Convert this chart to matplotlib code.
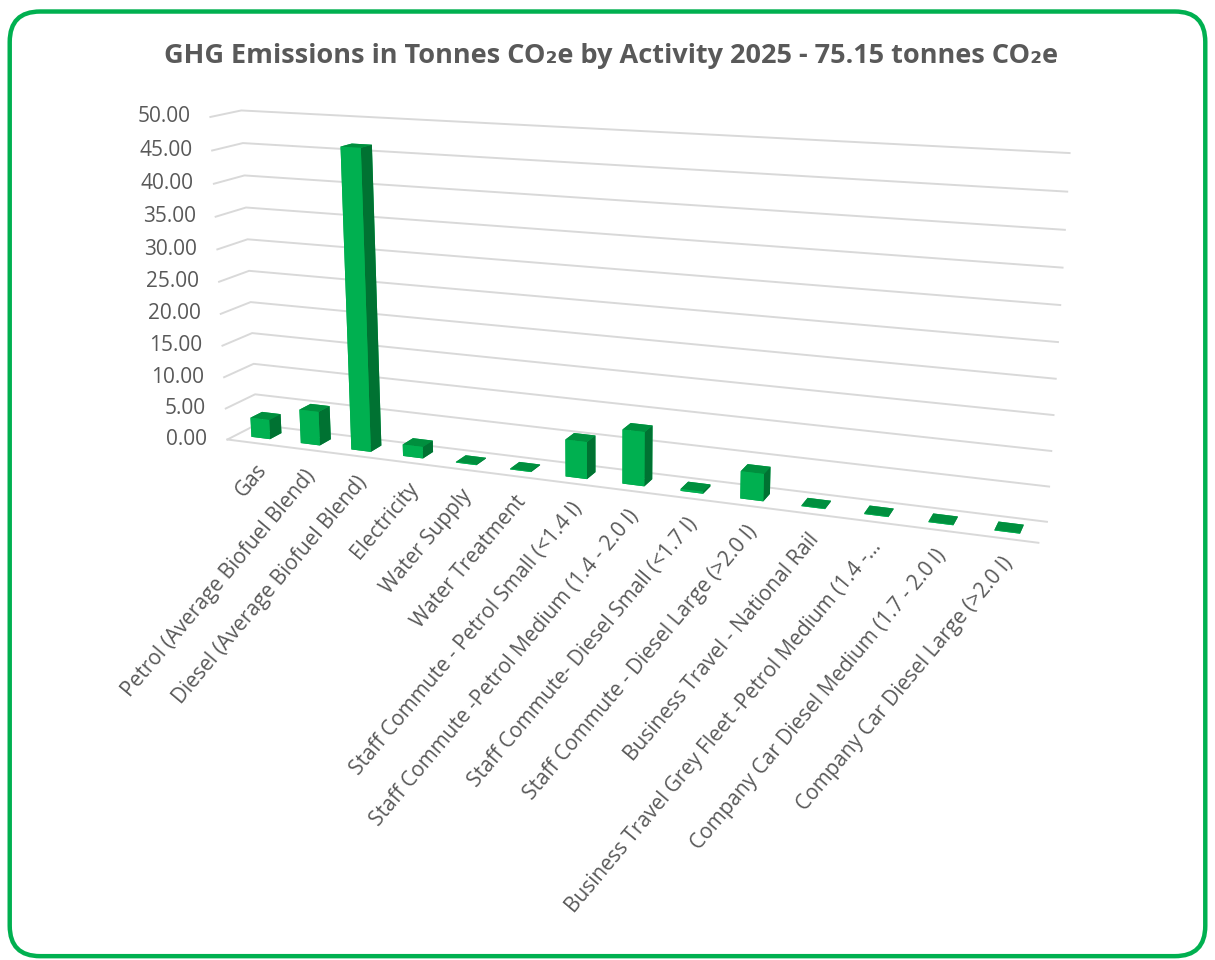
import matplotlib
matplotlib.use("Agg")
import matplotlib.pyplot as plt
import numpy as np
from matplotlib.patches import FancyBboxPatch
from mpl_toolkits.mplot3d import proj3d

categories = [
    "Gas",
    "Petrol (Average Biofuel Blend)",
    "Diesel (Average Biofuel Blend)",
    "Electricity",
    "Water Supply",
    "Water Treatment",
    "Staff Commute - Petrol Small (<1.4 l)",
    "Staff Commute -Petrol Medium (1.4 - 2.0 l)",
    "Staff Commute- Diesel Small (<1.7 l)",
    "Staff Commute - Diesel Large (>2.0 l)",
    "Business Travel - National Rail",
    "Business Travel Grey Fleet -Petrol Medium (1.4 -\u2026",
    "Company Car Diesel Medium (1.7 - 2.0 l)",
    "Company Car Diesel Large (>2.0 l)",
]
values = [3.1, 5.35, 46.3, 1.8, 0.12, 0.12, 5.6, 8.1, 0.3, 4.0, 0.1, 0.1, 0.1, 0.1]
zticks = [0, 5, 10, 15, 20, 25, 30, 35, 40, 45, 50]

title = "GHG Emissions in Tonnes CO\u2082e by Activity 2025 - 75.15 tonnes CO\u2082e"
grey = "#595959"
green = "#00b050"

plt.rcParams['font.family'] = ['Open Sans', 'DejaVu Sans']

fig = plt.figure(figsize=(12.15, 9.6), dpi=100)
ax = fig.add_axes([0.0954, 0.1638, 0.79, 1.0], projection='3d')
ax.set_proj_type('persp', focal_length=0.34)
ax.view_init(elev=13.5, azim=-69)

n = len(categories)
ax.set_xlim(-0.5, n - 0.5)
ax.set_ylim(0, 1)
ax.set_zlim(0, 50)
ax.set_box_aspect((13.55, 0.92, 5.5), zoom=0.953)
ax.set_axis_off()

# walls: gridlines on side + back wall, front floor edge
for z in zticks:
    ax.plot([-0.5, -0.5, n - 0.5], [0, 1, 1], [z, z, z], color='#d9d9d9', lw=1.4)
ax.plot([-0.5, n - 0.5], [0, 0], [0, 0], color='#d9d9d9', lw=1.4)

# bars: face order bottom, top, front, back, left, right
x = np.arange(n)
w, d = 0.38, 0.4
y0 = 0.5 - d / 2
faces = ['#00a347', '#008f3e', green, green, green, '#007232']
ax.bar3d(x - w / 2, np.full(n, y0), np.zeros(n), w, d, values,
         color=faces * n, shade=False, edgecolor='none')

M = ax.get_proj()
for z in zticks:
    px, py, _ = proj3d.proj_transform(-0.5, 0, z, M)
    ax.annotate(f"{z:.2f}", xy=(px, py), xycoords='data', xytext=(-20, 0),
                textcoords='offset pixels', ha='right', va='center',
                fontsize=15, color=grey)

for xi, lab in zip(x, categories):
    px, py, _ = proj3d.proj_transform(xi, y0, 0, M)
    ax.annotate(lab, xy=(px, py), xycoords='data', xytext=(2, -28),
                textcoords='offset pixels', ha='right', va='center',
                rotation=50, rotation_mode='anchor', fontsize=15, color=grey)

fig.text(0.503, 0.942, title, ha='center', va='center', fontsize=19.5,
         fontweight='bold', color=grey)

border = FancyBboxPatch((0.008, 0.004), 0.984, 0.984,
                        boxstyle='round,pad=0,rounding_size=0.025',
                        transform=fig.transFigure, fill=False,
                        ec=green, lw=3.2, mutation_aspect=1215 / 960)
fig.patches.append(border)

fig.savefig('out.png', dpi=100)
